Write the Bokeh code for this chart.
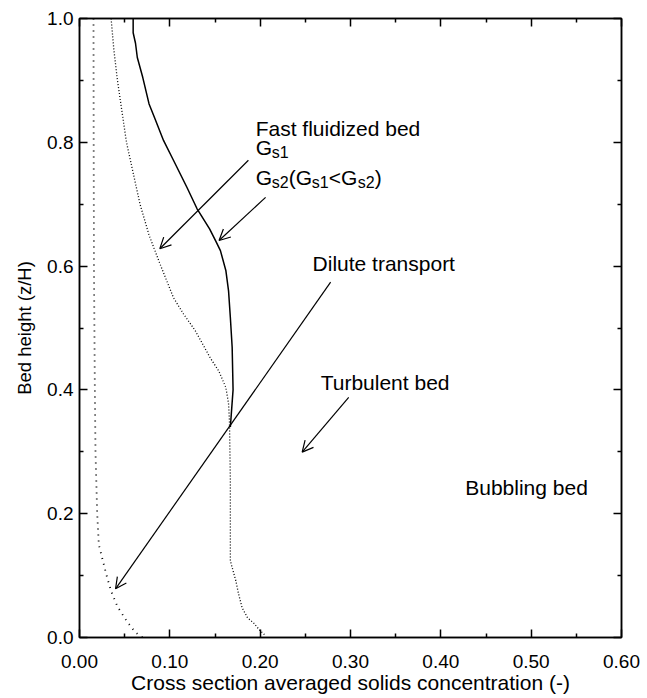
from bokeh.plotting import figure
from bokeh.models import Range1d, FixedTicker, LinearAxis, Arrow, OpenHead, ColumnDataSource
from bokeh.core.properties import value
from bokeh.embed import file_html
from bokeh.resources import INLINE

# ---- data ----
# dilute transport profile (leftmost dotted)
dil_x = [0.0155, 0.0157, 0.016, 0.017, 0.0177, 0.0196, 0.0214, 0.030, 0.035, 0.042, 0.053, 0.062, 0.070]
dil_y = [1.0, 0.8, 0.6, 0.4, 0.3, 0.2, 0.15, 0.1, 0.075, 0.05, 0.025, 0.008, 0.0]

# fast fluidized bed, Gs1 (dotted)
gs1_x = [0.035, 0.038, 0.042, 0.052, 0.067, 0.077, 0.089, 0.104, 0.115, 0.128, 0.136, 0.145,
         0.154, 0.162, 0.165, 0.166, 0.167, 0.167, 0.169, 0.173, 0.176, 0.180, 0.186, 0.193,
         0.200, 0.206]
gs1_y = [1.0, 0.95, 0.9, 0.8, 0.7, 0.65, 0.604, 0.549, 0.523, 0.496, 0.475, 0.451,
         0.431, 0.404, 0.378, 0.35, 0.254, 0.124, 0.113, 0.092, 0.071, 0.048, 0.032, 0.023,
         0.011, 0.003]

# fast fluidized bed, Gs2 (solid)
gs2_x = [0.0594, 0.0594, 0.062, 0.064, 0.070, 0.077, 0.083, 0.093, 0.104, 0.119, 0.130, 0.144,
         0.151, 0.156, 0.162, 0.165, 0.167, 0.169, 0.170, 0.168, 0.167]
gs2_y = [1.0, 0.977, 0.96, 0.937, 0.905, 0.862, 0.84, 0.803, 0.771, 0.727, 0.693, 0.66,
         0.64, 0.625, 0.593, 0.56, 0.517, 0.469, 0.40, 0.36, 0.34]

x_ticks = [0.0, 0.1, 0.2, 0.3, 0.4, 0.5, 0.6]
x_tick_labels = ["0.00", "0.10", "0.20", "0.30", "0.40", "0.50", "0.60"]
x_minor = [0.05, 0.15, 0.25, 0.35, 0.45, 0.55]
y_ticks = [0.0, 0.2, 0.4, 0.6, 0.8, 1.0]
y_tick_labels = ["0.0", "0.2", "0.4", "0.6", "0.8", "1.0"]
y_minor = [0.1, 0.3, 0.5, 0.7, 0.9]

x_title = "Cross section averaged solids concentration (-)"
y_title = "Bed height (z/H)"

ann_texts = ["Fast fluidized bed", "Dilute transport", "Turbulent bed", "Bubbling bed"]
ann_x = [0.195, 0.258, 0.267, 0.427]
ann_y = [0.8057, 0.5876, 0.3963, 0.2267]

# G_s labels (main pieces and subscript pieces)
g_main_text = ["G", "G", "(G", "<G", ")"]
g_main_y = [0.776, 0.7275, 0.7275, 0.7275, 0.7275]
g_sub_text = ["s1", "s2", "s1", "s2"]
g_sub_y = [0.776, 0.7275, 0.7275, 0.7275]
g_x = 0.195

arrow_x0 = [0.187, 0.206, 0.278, 0.298]
arrow_y0 = [0.771, 0.711, 0.574, 0.388]
arrow_x1 = [0.0889, 0.1545, 0.0399, 0.2465]
arrow_y1 = [0.628, 0.6414, 0.0786, 0.2994]

FONT = "Liberation Sans"
SHIFT = -10

p = figure(width=644, height=698, output_backend="svg", toolbar_location=None,
           x_range=Range1d(0, 0.6), y_range=Range1d(0, 1.0),
           min_border_left=79, min_border_right=23, min_border_top=18, min_border_bottom=61)
p.background_fill_color = "white"
p.border_fill_color = "white"
p.grid.visible = False
p.outline_line_color = "black"
p.outline_line_width = 1.5

def style_axis(ax, ticks, minor, labels=None, show=True):
    ax.ticker = FixedTicker(ticks=ticks, minor_ticks=minor)
    ax.axis_line_color = "black"
    ax.axis_line_width = 1.5
    ax.major_tick_in = 8
    ax.major_tick_out = 0
    ax.minor_tick_in = 4
    ax.minor_tick_out = 0
    ax.major_tick_line_color = "black"
    ax.major_tick_line_width = 1.5
    ax.minor_tick_line_color = "black"
    ax.minor_tick_line_width = 1.5
    if show:
        ax.major_label_overrides = {t: l for t, l in zip(ticks, labels)}
        ax.major_label_text_font = FONT
        ax.major_label_text_font_size = "19px"
        ax.major_label_text_color = "black"
        ax.axis_label_text_font = FONT
        ax.axis_label_text_font_style = "normal"
        ax.axis_label_text_color = "black"
    else:
        ax.major_label_text_font_size = "0px"
        ax.major_label_text_color = None

style_axis(p.xaxis[0], x_ticks, x_minor, x_tick_labels)
style_axis(p.yaxis[0], y_ticks, y_minor, y_tick_labels)
p.xaxis[0].axis_label = x_title
p.xaxis[0].axis_label_text_font_size = "21px"
p.xaxis[0].major_label_standoff = 17
p.xaxis[0].axis_label_standoff = 0
p.yaxis[0].axis_label = y_title
p.yaxis[0].axis_label_text_font_size = "18.5px"
p.yaxis[0].major_label_standoff = 6
p.yaxis[0].axis_label_standoff = 9

top = LinearAxis()
style_axis(top, x_ticks, x_minor, show=False)
p.add_layout(top, "above")
right = LinearAxis()
style_axis(right, y_ticks, y_minor, show=False)
p.add_layout(right, "right")

# curves
p.line(dil_x, dil_y, line_color="black", line_width=1.8, line_dash="1 5")
p.line(gs1_x, gs1_y, line_color="black", line_width=1.3, line_dash="1 2")
p.line(gs2_x, gs2_y, line_color="black", line_width=1.5)

# arrows
for x0, y0, x1, y1 in zip(arrow_x0, arrow_y0, arrow_x1, arrow_y1):
    p.add_layout(Arrow(end=OpenHead(size=11, line_width=1.2, line_color="black"),
                       x_start=x0, y_start=y0, x_end=x1, y_end=y1,
                       line_color="black", line_width=1.2))

# annotation texts
p.text(x=ann_x, y=ann_y, text=ann_texts, y_offset=SHIFT, text_font=value(FONT),
       text_font_size="21px", text_color="black", text_baseline="alphabetic", text_align="left")

main_src = ColumnDataSource(dict(x=[g_x] * len(g_main_text), y=g_main_y, text=g_main_text,
                                 xo=[0, 0, 33, 73, 119]))
p.text(x="x", y="y", text="text", x_offset="xo", y_offset=SHIFT, source=main_src,
       text_font=value(FONT), text_font_size="21px", text_color="black",
       text_baseline="alphabetic", text_align="left")
sub_src = ColumnDataSource(dict(x=[g_x] * len(g_sub_text), y=g_sub_y, text=g_sub_text,
                                xo=[16, 16, 56, 102]))
p.text(x="x", y="y", text="text", x_offset="xo", y_offset=SHIFT + 5, source=sub_src,
       text_font=value(FONT), text_font_size="16px", text_color="black",
       text_baseline="alphabetic", text_align="left")

open("out.html", "w").write(file_html(p, INLINE))
